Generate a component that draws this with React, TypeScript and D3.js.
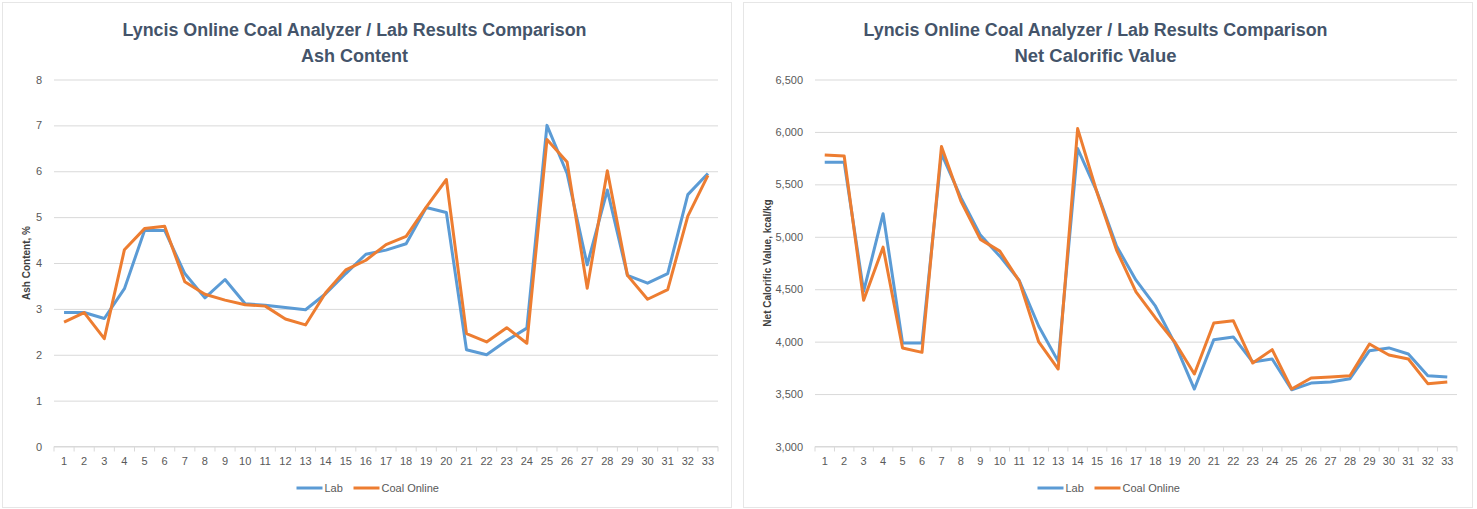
import { useRef, useEffect } from 'react';
import * as d3 from 'd3';

// sample numbers along the x axis
const samples = [
  '1', '2', '3', '4', '5', '6', '7', '8', '9', '10', '11', '12', '13', '14', '15', '16', '17',
  '18', '19', '20', '21', '22', '23', '24', '25', '26', '27', '28', '29', '30', '31', '32', '33',
];

// Ash content, %
const ashLab = [
  2.92, 2.92, 2.79, 3.44, 4.71, 4.71, 3.77, 3.24, 3.64, 3.11, 3.08, 3.03, 2.98, 3.33, 3.77, 4.19, 4.28,
  4.42, 5.21, 5.10, 2.11, 2.00, 2.31, 2.58, 7.00, 5.95, 3.96, 5.59, 3.73, 3.56, 3.77, 5.49, 5.95,
];
const ashOnline = [
  2.71, 2.92, 2.35, 4.29, 4.75, 4.80, 3.59, 3.32, 3.19, 3.09, 3.06, 2.78, 2.65, 3.35, 3.85, 4.06, 4.40,
  4.58, 5.22, 5.82, 2.46, 2.28, 2.59, 2.25, 6.69, 6.20, 3.45, 6.01, 3.73, 3.21, 3.42, 5.02, 5.91,
];
const ashTicks = [0, 1, 2, 3, 4, 5, 6, 7, 8];

// Net calorific value, kcal/kg
const ncvLab = [
  5710, 5710, 4480, 5220, 3987, 3987, 5793, 5373, 5016, 4815, 4583, 4147, 3812, 5841, 5427, 4911, 4586,
  4338, 3981, 3548, 4019, 4045, 3806, 3834, 3541, 3605, 3615, 3647, 3914, 3940, 3882, 3675, 3662,
];
const ncvOnline = [
  5781, 5771, 4395, 4901, 3940, 3898, 5860, 5341, 4975, 4863, 4577, 3997, 3739, 6032, 5420, 4873, 4475,
  4226, 3994, 3691, 4178, 4200, 3796, 3924, 3548, 3653, 3662, 3675, 3978, 3873, 3834, 3599, 3615,
];
const ncvTicks = [3000, 3500, 4000, 4500, 5000, 5500, 6000, 6500];

const titleLine = 'Lyncis Online Coal Analyzer / Lab Results Comparison';
const seriesNames = ['Lab', 'Coal Online'];

const BLUE = '#5b9bd5';
const ORANGE = '#ed7d31';
const GRID = '#d9d9d9';
const TEXT = '#595959';
const FONT = '"Liberation Sans", Arial, sans-serif';

interface PanelProps {
  left: number;
  width: number;
  plotLeft: number;
  plotRight: number;
  subtitle: string;
  subtitleWidth: number;
  yLabel: string;
  yLabelX: number;
  lab: number[];
  online: number[];
  yTicks: number[];
  tickFormat: (v: number) => string;
}

function Panel(props: PanelProps) {
  const gRef = useRef<SVGGElement>(null);

  useEffect(() => {
    if (!gRef.current) return;
    const {
      left, width, plotLeft, plotRight, subtitle, subtitleWidth, yLabel, yLabelX, lab, online, yTicks, tickFormat,
    } = props;
    const g = d3.select(gRef.current);
    g.selectAll('*').remove();

    const top = 79.5;
    const bottom = 446.5;
    const cx = left + width / 2;
    const titleX = cx - 12;

    // panel frame
    g.append('rect')
      .attr('x', left + 0.5)
      .attr('y', 2.5)
      .attr('width', width)
      .attr('height', 505)
      .attr('fill', '#fff')
      .attr('stroke', '#e6e6e6');

    // titles
    g.append('text')
      .attr('x', titleX)
      .attr('y', 36)
      .attr('text-anchor', 'middle')
      .attr('textLength', 464)
      .attr('lengthAdjust', 'spacingAndGlyphs')
      .style('font-family', FONT)
      .style('font-weight', 'bold')
      .style('font-size', '17.5px')
      .style('fill', '#44546a')
      .text(titleLine);

    g.append('text')
      .attr('x', titleX)
      .attr('y', 62)
      .attr('text-anchor', 'middle')
      .attr('textLength', subtitleWidth)
      .attr('lengthAdjust', 'spacingAndGlyphs')
      .style('font-family', FONT)
      .style('font-weight', 'bold')
      .style('font-size', '17.5px')
      .style('fill', '#44546a')
      .text(subtitle);

    const x = d3.scaleBand<string>()
      .domain(samples)
      .range([plotLeft, plotRight])
      .padding(0);

    const y = d3.scaleLinear()
      .domain([yTicks[0], yTicks[yTicks.length - 1]])
      .range([bottom, top]);

    // horizontal grid + y labels
    const yAxis = g.append('g')
      .attr('transform', `translate(${plotLeft},0)`)
      .call(d3.axisLeft(y)
        .tickValues(yTicks)
        .tickSize(-(plotRight - plotLeft))
        .tickPadding(12)
        .tickFormat((d) => tickFormat(d as number)));
    yAxis.select('.domain').remove();
    yAxis.selectAll('.tick line').style('stroke', GRID);
    yAxis.selectAll('.tick text')
      .style('fill', TEXT)
      .style('font-family', FONT)
      .style('font-size', '11px');

    // x axis line with tick marks between categories
    g.append('line')
      .attr('x1', plotLeft)
      .attr('x2', plotRight)
      .attr('y1', bottom)
      .attr('y2', bottom)
      .style('stroke', GRID);

    const boundaries = samples.map((s) => x(s) as number).concat([plotRight]);
    g.append('g')
      .selectAll('line')
      .data(boundaries)
      .enter()
      .append('line')
      .attr('x1', (d) => d)
      .attr('x2', (d) => d)
      .attr('y1', bottom)
      .attr('y2', bottom + 5)
      .style('stroke', GRID);

    g.append('g')
      .selectAll('text')
      .data(samples)
      .enter()
      .append('text')
      .attr('x', (d) => (x(d) as number) + x.bandwidth() / 2)
      .attr('y', bottom + 18)
      .attr('text-anchor', 'middle')
      .style('fill', TEXT)
      .style('font-family', FONT)
      .style('font-size', '11px')
      .text((d) => d);

    // y axis title
    g.append('text')
      .attr('transform', `translate(${yLabelX},${(top + bottom) / 2}) rotate(-90)`)
      .attr('text-anchor', 'middle')
      .style('fill', '#404040')
      .style('font-family', FONT)
      .style('font-weight', 'bold')
      .style('font-size', '10px')
      .text(yLabel);

    // series lines
    const line = d3.line<number>()
      .x((_, i) => (x(samples[i]) as number) + x.bandwidth() / 2)
      .y((d) => y(d));

    [[lab, BLUE], [online, ORANGE]].forEach(([values, color]) => {
      g.append('path')
        .attr('d', line(values as number[]))
        .attr('fill', 'none')
        .attr('stroke', color as string)
        .attr('stroke-width', 3)
        .attr('stroke-linejoin', 'round');
    });

    // legend
    const legendY = 488;
    const lx = cx - 70;
    const legend = g.append('g');
    [[seriesNames[0], BLUE, 0], [seriesNames[1], ORANGE, 57]].forEach(([name, color, dx]) => {
      const ox = lx + (dx as number);
      legend.append('line')
        .attr('x1', ox)
        .attr('x2', ox + 26)
        .attr('y1', legendY)
        .attr('y2', legendY)
        .attr('stroke', color as string)
        .attr('stroke-width', 3);
      legend.append('text')
        .attr('x', ox + 28)
        .attr('y', legendY + 4)
        .style('fill', TEXT)
        .style('font-family', FONT)
        .style('font-size', '11px')
        .text(name as string);
    });
  }, [props]);

  return <g ref={gRef} />;
}

export default function App() {
  return (
    <div style={{ position: 'absolute', left: 0, top: 0, background: '#fff' }}>
      <svg width={1477} height={509}>
        <rect width={1477} height={509} fill="#fff" />
        <Panel
          left={2}
          width={729}
          plotLeft={54}
          plotRight={718}
          subtitle="Ash Content"
          subtitleWidth={107}
          yLabel="Ash Content, %"
          yLabelX={30}
          lab={ashLab}
          online={ashOnline}
          yTicks={ashTicks}
          tickFormat={d3.format('d')}
        />
        <Panel
          left={743}
          width={729}
          plotLeft={815}
          plotRight={1457}
          subtitle="Net Calorific Value"
          subtitleWidth={162}
          yLabel="Net Calorific Value, kcal/kg"
          yLabelX={771}
          lab={ncvLab}
          online={ncvOnline}
          yTicks={ncvTicks}
          tickFormat={d3.format(',')}
        />
      </svg>
    </div>
  );
}
